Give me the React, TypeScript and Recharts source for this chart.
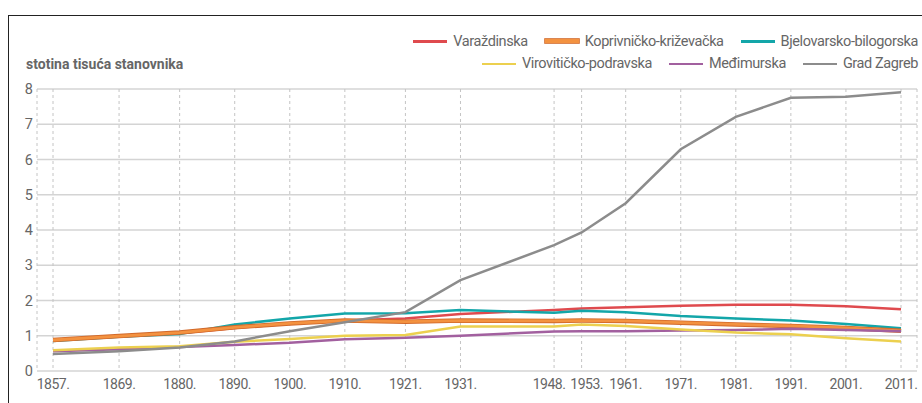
import React from 'react';
import { LineChart, Line, XAxis, YAxis, CartesianGrid } from 'recharts';

const years = [1857, 1869, 1880, 1890, 1900, 1910, 1921, 1931, 1948, 1953, 1961, 1971, 1981, 1991, 2001, 2011];
const varazdinska = [0.87, 0.98, 1.07, 1.22, 1.34, 1.43, 1.49, 1.62, 1.73, 1.77, 1.81, 1.85, 1.88, 1.88, 1.84, 1.75];
const koprivnicko = [0.88, 0.99, 1.09, 1.24, 1.35, 1.43, 1.4, 1.43, 1.42, 1.43, 1.42, 1.37, 1.32, 1.28, 1.22, 1.14];
const bjelovarsko = [0.85, 0.97, 1.05, 1.32, 1.49, 1.63, 1.64, 1.73, 1.65, 1.71, 1.67, 1.56, 1.49, 1.43, 1.33, 1.21];
const viroviticko = [0.59, 0.67, 0.7, 0.83, 0.91, 1.0, 1.02, 1.26, 1.26, 1.32, 1.28, 1.18, 1.09, 1.04, 0.93, 0.84];
const medimurska = [0.56, 0.62, 0.68, 0.74, 0.8, 0.9, 0.94, 1.0, 1.12, 1.13, 1.13, 1.15, 1.16, 1.2, 1.16, 1.13];
const zagreb = [0.48, 0.56, 0.67, 0.84, 1.13, 1.38, 1.67, 2.58, 3.57, 3.93, 4.76, 6.29, 7.21, 7.75, 7.78, 7.91];
const yTicks = [0, 1, 2, 3, 4, 5, 6, 7, 8];

const data = years.map((year, i) => ({
  year,
  varazdinska: varazdinska[i],
  koprivnicko: koprivnicko[i],
  bjelovarsko: bjelovarsko[i],
  viroviticko: viroviticko[i],
  medimurska: medimurska[i],
  zagreb: zagreb[i],
}));

const font = 'Roboto, "Liberation Sans", sans-serif';
const textColor = '#666';

const colors = {
  red: '#df4a4e',
  orange: '#f39240',
  orangeEdge: '#d2692a',
  teal: '#13a6a9',
  yellow: '#ecd04f',
  purple: '#a2609f',
  gray: '#8c8c8c',
};

// labels of close census years are nudged apart so they do not collide
const labelNudge: Record<number, number> = { 1948: -5, 1953: 5 };

const legendRows = [
  [
    { label: 'Varaždinska', color: colors.red },
    { label: 'Koprivničko-križevačka', color: colors.orange, edge: colors.orangeEdge },
    { label: 'Bjelovarsko-bilogorska', color: colors.teal },
  ],
  [
    { label: 'Virovitičko-podravska', color: colors.yellow },
    { label: 'Međimurska', color: colors.purple },
    { label: 'Grad Zagreb', color: colors.gray },
  ],
];

function YearTick(props: any) {
  const { x, y, payload } = props;
  const dx = labelNudge[payload.value] || 0;
  return (
    <text
      x={x + dx}
      y={y + 11}
      textAnchor="middle"
      fill={textColor}
      fontSize={14}
      fontFamily={font}
      letterSpacing={-0.5}
    >
      {`${payload.value}.`}
    </text>
  );
}

function LegendBox() {
  return (
    <div
      style={{
        position: 'absolute',
        right: 4,
        top: 30,
        fontFamily: font,
        fontSize: 14.5,
        letterSpacing: -0.4,
        color: textColor,
      }}
    >
      {legendRows.map((row, r) => (
        <div key={r} style={{ display: 'flex', justifyContent: 'flex-end', height: 22.5, alignItems: 'center' }}>
          {row.map((item) => (
            <div key={item.label} style={{ display: 'flex', alignItems: 'center', marginLeft: 17 }}>
              <span
                style={{
                  display: 'inline-block',
                  width: 34,
                  height: item.edge ? 4 : 2.5,
                  background: item.color,
                  boxShadow: item.edge ? `0 0 0 0.8px ${item.edge}` : undefined,
                  marginRight: 6,
                }}
              />
              <span>{item.label}</span>
            </div>
          ))}
        </div>
      ))}
    </div>
  );
}

export default function App() {
  return (
    <div style={{ position: 'absolute', left: 0, top: 0, width: 922, height: 403, overflow: 'hidden', background: '#fff' }}>
      <div
        style={{
          position: 'absolute',
          left: 8,
          top: 15,
          width: 940,
          height: 420,
          borderTop: '1.5px solid #222',
          borderLeft: '1.5px solid #222',
        }}
      />
      <div
        style={{
          position: 'absolute',
          left: 26,
          top: 56,
          fontFamily: font,
          fontWeight: 'bold',
          fontSize: 14,
          color: textColor,
        }}
      >
        stotina tisuća stanovnika
      </div>
      <LegendBox />
      <div style={{ position: 'absolute', left: 0, top: 0 }}>
        <LineChart width={922} height={403} data={data} margin={{ top: 89, right: 5, left: 0, bottom: 2 }}>
          <CartesianGrid vertical={false} stroke="#d4d4d4" strokeWidth={1.5} />
          <CartesianGrid horizontal={false} stroke="#c4c4c4" strokeDasharray="3 3" />
          <XAxis
            dataKey="year"
            type="number"
            domain={[1857, 2011]}
            ticks={years}
            interval={0}
            padding={{ left: 16, right: 16 }}
            axisLine={false}
            tickLine={false}
            tickSize={6}
            tickMargin={1}
            height={30}
            tick={<YearTick />}
          />
          <YAxis
            type="number"
            domain={[0, 8]}
            ticks={yTicks}
            width={37}
            axisLine={false}
            tickLine={false}
            tickSize={2}
            tickMargin={2}
            tick={{ fill: textColor, fontSize: 14.5, fontFamily: font }}
          />
          <Line dataKey="varazdinska" stroke={colors.red} strokeWidth={2.5} dot={false} isAnimationActive={false} />
          <Line dataKey="bjelovarsko" stroke={colors.teal} strokeWidth={2.5} dot={false} isAnimationActive={false} />
          <Line dataKey="koprivnicko" stroke={colors.orangeEdge} strokeWidth={4.5} dot={false} isAnimationActive={false} />
          <Line dataKey="koprivnicko" stroke={colors.orange} strokeWidth={2.8} dot={false} isAnimationActive={false} />
          <Line dataKey="medimurska" stroke={colors.purple} strokeWidth={2.5} dot={false} isAnimationActive={false} />
          <Line dataKey="viroviticko" stroke={colors.yellow} strokeWidth={2.5} dot={false} isAnimationActive={false} />
          <Line dataKey="zagreb" stroke={colors.gray} strokeWidth={2.5} dot={false} isAnimationActive={false} />
        </LineChart>
      </div>
    </div>
  );
}
